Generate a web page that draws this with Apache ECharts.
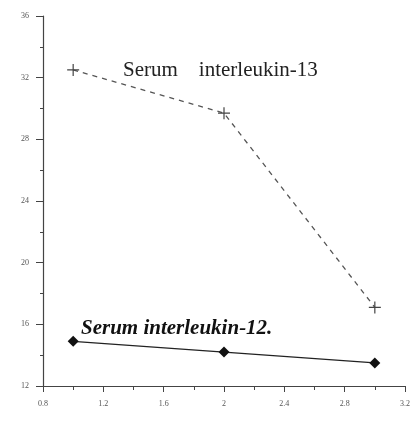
<!DOCTYPE html>
<html><head><meta charset="utf-8">
<script src="https://cdn.jsdelivr.net/npm/echarts@6/dist/echarts.min.js"></script>
<style>html,body{margin:0;padding:0;background:#fff}#c{width:413px;height:421px}</style>
</head><body><div id="c"></div>
<script>
const xTicks = [0.8, 1.2, 1.6, 2, 2.4, 2.8, 3.2];
const yTicks = [12, 16, 20, 24, 28, 32, 36];
const xValues = [1, 2, 3];
const il13 = [32.5, 29.7, 17.1];
const il12 = [14.9, 14.2, 13.5];
const il13Name = 'Serum    interleukin-13';
const il12Name = 'Serum interleukin-12.';

const chart = echarts.init(document.getElementById('c'), null, {renderer: 'canvas'});
const axisCol = '#444';
chart.setOption({
  animation: false,
  backgroundColor: '#fff',
  grid: {left: 43, right: 6, top: 16, bottom: 35},
  xAxis: {
    type: 'value', min: xTicks[0], max: xTicks[xTicks.length-1], interval: 0.4,
    axisLine: {lineStyle: {color: axisCol, width: 1.2}},
    axisTick: {show: true, inside: false, length: 6, lineStyle: {color: axisCol}},
    minorTick: {show: true, splitNumber: 2, length: 4, lineStyle: {color: axisCol}},
    splitLine: {show: false},
    axisLabel: {color: '#555', fontSize: 8, margin: 14, fontFamily: 'Liberation Serif',
      formatter: v => String(+v.toFixed(1))}
  },
  yAxis: {
    type: 'value', min: yTicks[0], max: yTicks[yTicks.length-1], interval: 4,
    axisLine: {show: true, lineStyle: {color: axisCol, width: 1.2}},
    axisTick: {show: true, inside: false, length: 7, lineStyle: {color: axisCol}},
    minorTick: {show: true, splitNumber: 2, length: 3, lineStyle: {color: axisCol}},
    splitLine: {show: false},
    axisLabel: {color: '#555', fontSize: 8, margin: 14, fontFamily: 'Liberation Serif'}
  },
  series: [
    {
      name: il13Name, type: 'line',
      data: xValues.map((x, i) => [x, il13[i]]),
      symbol: 'path://M0,5L10,5M5,0L5,10', symbolSize: 12,
      lineStyle: {color: '#555', width: 1.3, type: [5, 5]},
      itemStyle: {color: 'none', borderColor: '#444', borderWidth: 1.2}
    },
    {
      name: il12Name, type: 'line',
      data: xValues.map((x, i) => [x, il12[i]]),
      symbol: 'diamond', symbolSize: 11,
      lineStyle: {color: '#222', width: 1.2},
      itemStyle: {color: '#111'}
    }
  ],
  graphic: [
    {type: 'text', left: 123, top: 60, style: {text: il13Name, fontFamily: 'Liberation Serif', fontSize: 21, fill: '#222'}},
    {type: 'text', left: 81, top: 318, style: {text: il12Name, fontFamily: 'Liberation Serif', fontSize: 21, fontWeight: 'bold', fontStyle: 'italic', fill: '#111'}}
  ]
});
</script></body></html>
